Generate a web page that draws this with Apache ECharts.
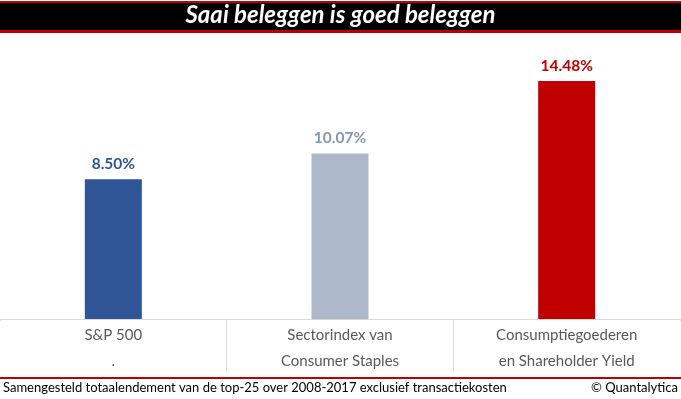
<!DOCTYPE html>
<html>
<head>
    <meta charset="utf-8">
    <title>Saai beleggen</title>
    <script src="https://cdn.jsdelivr.net/npm/echarts@6/dist/echarts.min.js"></script>
    <style>
        html, body { margin: 0; padding: 0; background: #fff; }
        #main { width: 681px; height: 399px; }
    </style>
</head>
<body>
    <div id="main"></div>
    <script type="text/javascript">
        // data
        var categories = ['S&P 500\n.', 'Sectorindex van\nConsumer Staples', 'Consumptiegoederen\nen Shareholder Yield'];
        var returns = [8.50, 10.07, 14.48];
        var barColors = ['#2F5597', '#ADB9CA', '#C00000'];
        var labelColors = ['#2F5597', '#8497B0', '#C00000'];

        var myChart = echarts.init(document.getElementById('main'));

        var option = {
            backgroundColor: '#fff',
            animation: false,
            textStyle: { fontFamily: 'Lato' },
            grid: { left: 0, right: 1, top: 56, bottom: 80 },
            xAxis: {
                type: 'category',
                data: categories,
                axisLine: { lineStyle: { color: '#D9D9D9', width: 1 } },
                axisTick: { show: true, length: 52, interval: 0, lineStyle: { color: '#D9D9D9' } },
                axisLabel: {
                    interval: 0, margin: 3, color: '#595959',
                    fontSize: 15, lineHeight: 26, fontFamily: 'Lato'
                }
            },
            yAxis: {
                type: 'value', min: 0, max: 16, show: false,
                splitLine: { show: false }
            },
            series: [{
                type: 'bar',
                barWidth: 57,
                data: returns.map(function (v, i) {
                    return {
                        value: v,
                        itemStyle: { color: barColors[i] },
                        label: { color: labelColors[i] }
                    };
                }),
                label: {
                    show: true, position: 'top', distance: 7,
                    fontSize: 15.5, fontWeight: 'bold', fontFamily: 'Lato',
                    formatter: function (p) { return p.value.toFixed(2) + '%'; }
                }
            }],
            graphic: [
                { type: 'rect', left: 0, top: 1, shape: { width: 681, height: 32 }, style: { fill: '#C00000' } },
                { type: 'rect', left: 0, top: 3, shape: { width: 681, height: 27 }, style: { fill: '#000' } },
                {
                    type: 'text', left: 'center', top: 3,
                    style: {
                        text: 'Saai beleggen is goed beleggen', fill: '#fff',
                        font: 'italic bold 24px Lato'
                    }
                },
                // hide the two outer tick lines
                { type: 'rect', z: 100, left: 0, top: 321, shape: { width: 2, height: 54 }, style: { fill: '#fff' } },
                { type: 'rect', z: 100, right: 0, top: 321, shape: { width: 3, height: 54 }, style: { fill: '#fff' } },
                { type: 'rect', z: 100, left: 0, top: 377, shape: { width: 681, height: 2 }, style: { fill: '#C00000' } },
                {
                    type: 'text', left: 3, top: 381,
                    style: {
                        text: 'Samengesteld totaalendement van de top-25 over 2008-2017 exclusief transactiekosten',
                        fill: '#000', font: '13px Lato'
                    }
                },
                {
                    type: 'text', right: 3, top: 381,
                    style: { text: '\u00A9 Quantalytica', fill: '#000', font: '13px Lato' }
                }
            ]
        };

        myChart.setOption(option);
    </script>
</body>
</html>
